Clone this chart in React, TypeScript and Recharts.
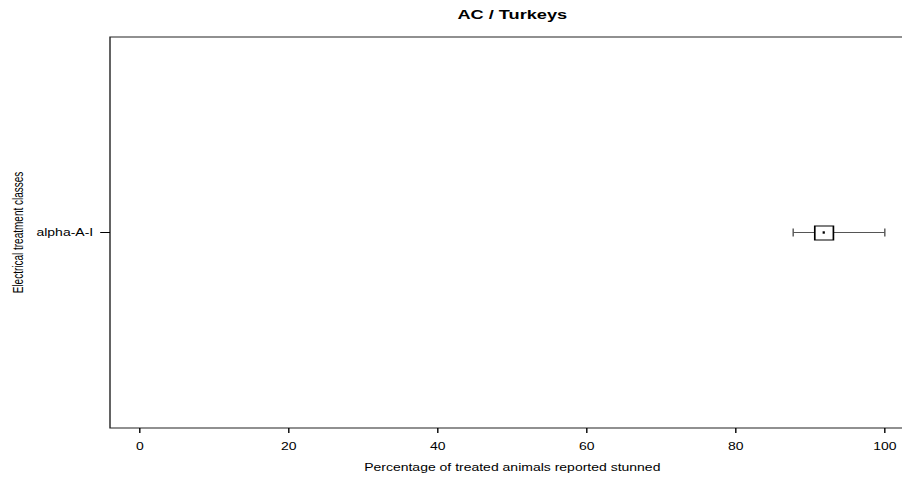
import React from 'react';
import { ComposedChart, Bar, XAxis, YAxis, ReferenceDot, ReferenceArea, Label } from 'recharts';

// ---- data ----
const categories = ['alpha-A-I'];
const whiskerLow = [87.7];
const q1 = [90.6];
const median = [91.8];
const q3 = [93.1];
const whiskerHigh = [100];
const xTicks = [0, 20, 40, 60, 80, 100];
const xDomain: [number, number] = [-4, 104];

const title = 'AC / Turkeys';
const xTitle = 'Percentage of treated animals reported stunned';
const yTitle = 'Electrical treatment classes';

const data = categories.map((name, i) => ({
  name,
  whisker: [whiskerLow[i], whiskerHigh[i]],
  box: [q1[i], q3[i]],
}));

// ---- layout ----
const STRETCH = 1.4;
const FONT = '"Liberation Sans", Arial, Helvetica, sans-serif';

const CapShape = (p: any) => (
  <line x1={p.cx} x2={p.cx} y1={p.cy - 4} y2={p.cy + 4} stroke="#555" strokeWidth={1} />
);
const MedianShape = (p: any) => (
  <rect x={p.cx - 0.8} y={p.cy - 1.2} width={1.6} height={2.4} fill="#000" />
);

export default function App() {
  return (
    <div style={{ position: 'absolute', left: 0, top: 0, width: 902, height: 477, overflow: 'hidden', background: '#fff' }}>
      <div style={{ transform: `scaleX(${STRETCH})`, transformOrigin: '0 0', width: 656, height: 477, fontFamily: FONT }}>
        <ComposedChart
          layout="vertical"
          width={656}
          height={477}
          data={data}
          margin={{ top: 37, right: 2.7, bottom: 0, left: 0 }}
          style={{ fontFamily: FONT }}
        >
          <XAxis
            type="number"
            domain={xDomain}
            ticks={xTicks}
            interval={0}
            allowDataOverflow
            height={49}
            tickSize={5}
            tickMargin={10}
            axisLine={false}
            tickLine={{ stroke: '#000' }}
            tick={{ fill: '#000', fontSize: 10, fontFamily: FONT }}
          >
            <Label
              content={(props: any) => {
                const vb = props.viewBox;
                return (
                  <text x={vb.x + vb.width / 2} y={vb.y + vb.height - 6} textAnchor="middle" fontSize={10} fill="#000" fontFamily={FONT}>
                    {xTitle}
                  </text>
                );
              }}
            />
          </XAxis>
          <YAxis
            yAxisId="main"
            type="category"
            dataKey="name"
            width={78.57}
            tickSize={7}
            tickMargin={5}
            axisLine={false}
            tickLine={{ stroke: '#000' }}
            tick={{ fill: '#000', fontSize: 10, fontFamily: FONT }}
          >
            <Label
              content={(props: any) => {
                const vb = props.viewBox;
                const x = vb.x + 16.4;
                const y = vb.y + vb.height / 2;
                return (
                  <text x={x} y={y} transform={`rotate(-90, ${x}, ${y})`} textAnchor="middle" fontSize={10} fill="#000" fontFamily={FONT}>
                    {yTitle}
                  </text>
                );
              }}
            />
          </YAxis>
          <YAxis yAxisId="w" type="category" dataKey="name" hide width={0} orientation="right" />
          <YAxis yAxisId="b" type="category" dataKey="name" hide width={0} orientation="right" />
          <ReferenceArea
            yAxisId="main"
            x1={xDomain[0]}
            x2={xDomain[1]}
            fill="none"
            fillOpacity={0}
            stroke="#222"
            strokeWidth={1}
            label={(props: any) => {
              const vb = props.viewBox;
              return (
                <text x={vb.x + vb.width / 2} y={vb.y - 18} textAnchor="middle" fontSize={13} fontWeight="bold" fill="#000" fontFamily={FONT}>
                  {title}
                </text>
              );
            }}
          />
          <Bar yAxisId="w" dataKey="whisker" barSize={1} fill="#555" isAnimationActive={false} />
          <Bar yAxisId="b" dataKey="box" barSize={14} fill="#fff" stroke="#000" strokeWidth={1.2} isAnimationActive={false} />
          {categories.map((c, i) => (
            <ReferenceDot key={`lo-${c}`} yAxisId="main" x={whiskerLow[i]} y={c} shape={CapShape} />
          ))}
          {categories.map((c, i) => (
            <ReferenceDot key={`hi-${c}`} yAxisId="main" x={whiskerHigh[i]} y={c} shape={CapShape} />
          ))}
          {categories.map((c, i) => (
            <ReferenceDot key={`md-${c}`} yAxisId="main" x={median[i]} y={c} shape={MedianShape} />
          ))}
        </ComposedChart>
      </div>
    </div>
  );
}
